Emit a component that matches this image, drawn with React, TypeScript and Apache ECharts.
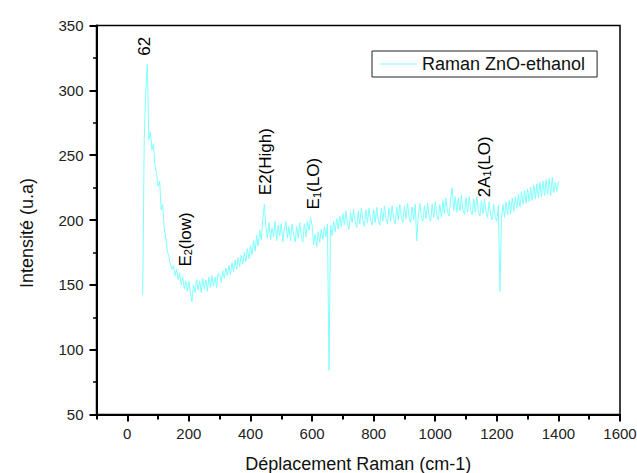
import React, { useEffect, useRef } from "react";
import * as echarts from "echarts";

const FONT = '"Liberation Sans", Arial, Helvetica, sans-serif';

const shiftStart = 50;
const shiftStep = 5;

// Intensity (u.a), one value every 5 cm-1 from 50 to 1400
const intensity = [
  142, 262, 300, 320, 262, 268, 254, 259, 242, 236,
  226, 230, 208, 212, 193, 186, 176, 172, 166, 162,
  165, 157, 162, 154, 159, 150, 156, 147, 153, 145,
  153, 144, 137, 150, 144, 154, 146, 153, 144, 155,
  147, 154, 145, 156, 148, 157, 149, 156, 148, 159,
  158, 152, 161, 155, 163, 157, 165, 158, 167, 160,
  169, 162, 171, 164, 173, 166, 175, 168, 178, 170,
  180, 173, 184, 176, 188, 180, 192, 185, 200, 212,
  195, 186, 198, 185, 194, 187, 199, 184, 196, 188,
  197, 183, 193, 199, 186, 195, 184, 197, 189, 183,
  195, 186, 198, 188, 183, 197, 187, 199, 192, 202,
  196, 181, 189, 179, 191, 183, 193, 185, 195, 187,
  197, 84, 196, 188, 199, 191, 201, 193, 203, 195,
  205, 196, 207, 197, 193, 206, 198, 208, 199, 194,
  207, 197, 209, 200, 195, 208, 198, 209, 200, 196,
  208, 198, 210, 200, 196, 209, 199, 211, 201, 197,
  209, 199, 211, 201, 197, 210, 200, 212, 202, 198,
  211, 201, 213, 202, 198, 210, 200, 212, 184, 203,
  213, 202, 199, 211, 201, 213, 203, 199, 212, 202,
  214, 204, 200, 212, 202, 215, 205, 217, 206, 203,
  216, 225, 207, 218, 206, 217, 207, 219, 208, 204,
  217, 206, 218, 208, 204, 216, 206, 218, 207, 203,
  215, 205, 216, 206, 202, 214, 204, 200, 212, 202,
  199, 211, 145, 201, 212, 202, 214, 204, 215, 205,
  217, 207, 218, 209, 220, 210, 222, 212, 223, 213,
  224, 214, 225, 215, 227, 216, 228, 217, 229, 218,
  230, 219, 231, 220, 232, 219, 233, 221, 229, 222,
  230,
];

const xMin = -100;
const xMax = 1600;
const xMajorTicks = [0, 200, 400, 600, 800, 1000, 1200, 1400, 1600];
const yMin = 50;
const yMax = 350;
const yStep = 50;

const seriesName = "Raman ZnO-ethanol";
const xTitle = "Déplacement Raman (cm-1)";
const yTitle = "Intensité (u.a)";

// Peak annotations: text, and text centre in data units
const peakTexts = ["{n|62}", "{n|E}{s|2}{n|(low)}", "{n|E2(High)}", "{n|E}{s|1}{n|(LO)}", "{n|2A}{s|1}{n|(LO)}"];
const peakTextX = [57, 188, 448, 605, 1159];
const peakTextY = [334, 185, 245, 228, 241];

export default function App() {
  const ref = useRef<HTMLDivElement>(null);

  useEffect(() => {
    if (!ref.current) return;
    const chart = echarts.init(ref.current, undefined, { renderer: "svg" });
    const data = intensity.map((v, i) => [shiftStart + i * shiftStep, v]);
    const annotations = peakTexts.map((t, i) => [peakTextX[i], peakTextY[i], t]);

    const labelRich = {
      n: { fontSize: 17, color: "#000", fontFamily: FONT, verticalAlign: "middle" },
      s: { fontSize: 11, color: "#000", fontFamily: FONT, verticalAlign: "bottom" },
    };

    chart.setOption({
      animation: false,
      backgroundColor: "#ffffff",
      textStyle: { fontFamily: FONT },
      grid: {
        left: 96.5,
        right: 17,
        top: 25.5,
        bottom: 58.5,
        show: true,
        borderColor: "#000",
        borderWidth: 1.5,
        backgroundColor: "transparent",
        outerBoundsMode: "none",
      },
      legend: {
        left: 372,
        top: 51,
        icon: "rect",
        itemWidth: 37,
        itemHeight: 1.2,
        padding: [4, 12, 4, 8],
        borderColor: "#222",
        borderWidth: 1,
        borderRadius: 0,
        textStyle: { fontSize: 18, color: "#111", fontFamily: FONT, lineHeight: 18 },
        data: [seriesName],
      },
      xAxis: [
        {
          type: "value",
          min: xMin,
          max: xMax,
          position: "bottom",
          name: xTitle,
          nameLocation: "middle",
          nameGap: 40,
          nameTextStyle: { fontSize: 18, color: "#111", fontFamily: FONT },
          axisLine: { show: true, onZero: false, lineStyle: { color: "#000", width: 2 } },
          axisTick: {
            show: true,
            inside: false,
            length: 7,
            customValues: xMajorTicks,
            lineStyle: { color: "#000", width: 2 },
          },
          axisLabel: {
            customValues: xMajorTicks,
            formatter: (v: number) => String(v),
            fontSize: 15,
            color: "#222",
            margin: 11,
            fontFamily: FONT,
          },
          splitLine: { show: false },
        },
        {
          type: "value",
          min: xMin,
          max: xMax,
          interval: 100,
          position: "bottom",
          axisLine: { show: false, onZero: false },
          axisTick: { show: true, inside: false, length: 5, lineStyle: { color: "#000", width: 2 } },
          axisLabel: { show: false },
          splitLine: { show: false },
        },
      ],
      yAxis: {
        type: "value",
        min: yMin,
        max: yMax,
        interval: yStep,
        name: yTitle,
        nameLocation: "middle",
        nameGap: 61,
        nameTextStyle: { fontSize: 18, color: "#111", fontFamily: FONT, padding: [0, 26, 0, 0] },
        axisLine: { show: true, onZero: false, lineStyle: { color: "#000", width: 2 } },
        axisTick: { show: true, inside: false, length: 7, lineStyle: { color: "#000", width: 2 } },
        minorTick: { show: true, splitNumber: 2, length: 3.5, lineStyle: { color: "#000", width: 1.5 } },
        axisLabel: { fontSize: 15, color: "#222", margin: 13, fontFamily: FONT },
        splitLine: { show: false },
        minorSplitLine: { show: false },
      },
      series: [
        {
          name: seriesName,
          type: "line",
          xAxisIndex: 0,
          data,
          symbol: "none",
          showSymbol: false,
          lineStyle: { color: "#80ffff", width: 1 },
          itemStyle: { color: "#80ffff" },
          emphasis: { disabled: true },
        },
        {
          name: "peaks",
          type: "scatter",
          xAxisIndex: 0,
          data: annotations,
          symbol: "circle",
          symbolSize: 1,
          silent: true,
          itemStyle: { color: "rgba(255,255,255,0)", opacity: 1 },
          emphasis: { disabled: true },
          label: {
            show: true,
            position: "inside",
            rotate: 90,
            align: "center",
            verticalAlign: "middle",
            color: "#000",
            opacity: 1,
            formatter: (p: any) => p.data[2],
            rich: labelRich,
          },
        },
      ],
    });

    return () => chart.dispose();
  }, []);

  return (
    <div
      ref={ref}
      style={{ position: "fixed", left: 0, top: 0, width: 637, height: 473, background: "#fff" }}
    />
  );
}
